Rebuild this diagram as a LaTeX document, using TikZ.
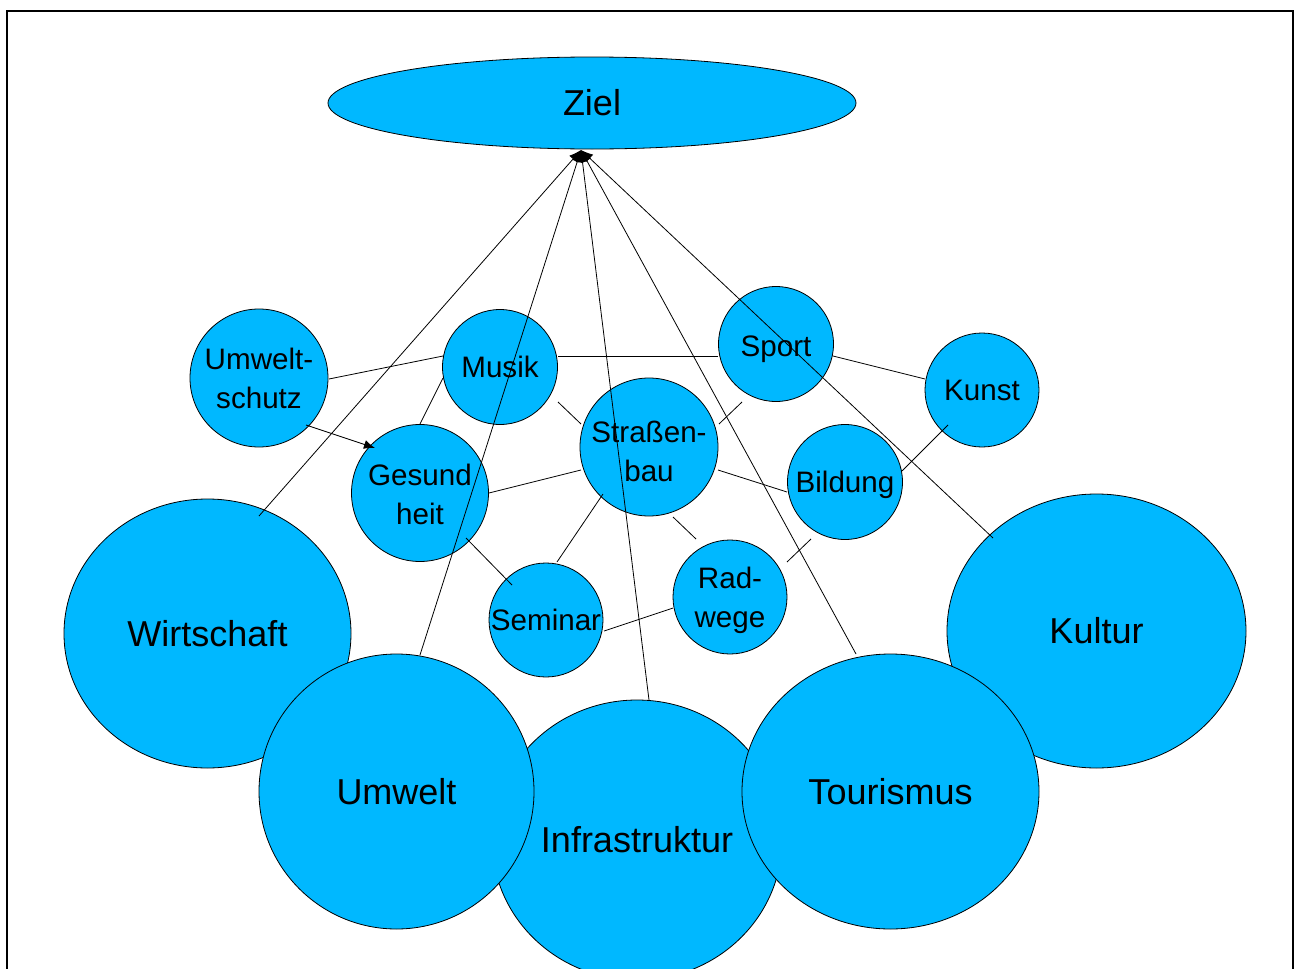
\documentclass[tikz,border=0pt]{standalone}
\usepackage{fontspec}
\setmainfont{Liberation Sans}
\usetikzlibrary{shapes.geometric,arrows.meta}
\definecolor{fillblue}{RGB}{0,184,255}
\begin{document}
\begin{tikzpicture}[x=1pt,y=-1pt,
  bubble/.style={circle,draw=black,line width=0.8pt,fill=fillblue,inner sep=-4pt,align=center,font=\fontsize{29.6}{39}\selectfont},
  nodesc/.style={text depth=0pt},
  big/.style={ellipse,draw=black,line width=0.8pt,fill=fillblue,inner sep=0pt,align=center,font=\fontsize{36}{42}\selectfont},
  link/.style={line width=0.8pt},
  toziel/.style={line width=0.8pt,-{Latex[length=12pt,width=10pt]}},
  frame/.style={line width=2pt}
]
\useasboundingbox (0,0) rectangle (1294,969);
\fill[white] (0,0) rectangle (1294,969);
\draw[frame] (7,980) -- (7,11) -- (1293,11) -- (1293,980);

% top goal
\node[big, minimum width=528pt, minimum height=92pt, font=\fontsize{36}{42}\selectfont] (ziel) at (592,103) {Ziel};
\coordinate (apex) at (581,150);

% big areas
\node[big, minimum width=287pt, minimum height=269pt] (wirt) at (207.5,633.5) {Wirtschaft};
\node[big, minimum width=299pt, minimum height=274pt] (kult) at (1096.5,631) {Kultur};
\node[big, minimum width=290pt, minimum height=280pt] (infra) at (637,840) {Infrastruktur};
\node[big, minimum width=275pt, minimum height=275pt] (umw) at (396.5,791.5) {Umwelt};
\node[big, minimum width=297pt, minimum height=275pt] (tour) at (890.5,791.5) {Tourismus};

% small topics
\node[bubble, minimum size=138pt] (uschutz) at (259,378) {Umwelt-\\schutz};
\node[bubble, minimum size=115pt] (musik) at (500,367) {Musik};
\node[bubble, minimum size=137pt] (gesund) at (420,493) {\rule{0pt}{25pt}Gesund\\heit};
\node[bubble, minimum size=138pt] (strasse) at (649,447) {\rule{0pt}{30pt}Straßen-\\bau};
\node[bubble, nodesc, minimum size=115pt] (sport) at (776,344) {\rule{0pt}{25pt}Sport};
\node[bubble, minimum size=114pt] (kunst) at (982,390) {Kunst};
\node[bubble, nodesc, minimum size=115pt] (bild) at (845,482) {Bildung};
\node[bubble, minimum size=114pt] (sem) at (546,620) {Seminar};
\node[bubble, nodesc, minimum size=114pt] (rad) at (730,597) {Rad-\\wege};

% link end points
\coordinate (us1) at (329,379);   \coordinate (mu1) at (443,356);
\coordinate (mu2) at (558,356);   \coordinate (sp1) at (718,356);
\coordinate (sp2) at (833,356);   \coordinate (ku1) at (925,379);
\coordinate (mu3) at (443,378);   \coordinate (ge1) at (420,424);
\coordinate (us2) at (306,425);   \coordinate (ge2) at (375,448);
\coordinate (mu4) at (558,402);   \coordinate (st1) at (581,424);
\coordinate (ge3) at (489,493);   \coordinate (st2) at (581,470);
\coordinate (st3) at (719,424);   \coordinate (sp3) at (742,402);
\coordinate (st4) at (718,470);   \coordinate (bi1) at (787,492);
\coordinate (ku2) at (948,425);   \coordinate (bi2) at (902,471);
\coordinate (st5) at (603,494);   \coordinate (se1) at (557,562);
\coordinate (ge4) at (466,538);   \coordinate (se2) at (512,585);
\coordinate (st6) at (673,517);   \coordinate (ra1) at (696,539);
\coordinate (se3) at (604,631);   \coordinate (ra2) at (673,608);
\coordinate (bi3) at (811,539);   \coordinate (ra3) at (787,562);

\draw[link] (us1) -- (mu1);
\draw[link] (mu2) -- (sp1);
\draw[link] (sp2) -- (ku1);
\draw[link] (mu3) -- (ge1);
\draw[link,-{Latex[length=11pt,width=9pt]}] (us2) -- (ge2);
\draw[link] (mu4) -- (st1);
\draw[link] (ge3) -- (st2);
\draw[link] (st3) -- (sp3);
\draw[link] (st4) -- (bi1);
\draw[link] (ku2) -- (bi2);
\draw[link] (st5) -- (se1);
\draw[link] (ge4) -- (se2);
\draw[link] (st6) -- (ra1);
\draw[link] (se3) -- (ra2);
\draw[link] (bi3) -- (ra3);

% lines from areas to goal
\coordinate (wi0) at (259,516);
\coordinate (um0) at (420,655);
\coordinate (in0) at (649,700);
\coordinate (to0) at (856,654);
\coordinate (kl0) at (993,538);
\draw[toziel] (wi0) -- (apex);
\draw[toziel] (um0) -- (apex);
\draw[toziel] (in0) -- (apex);
\draw[toziel] (to0) -- (apex);
\draw[toziel] (kl0) -- (apex);
\end{tikzpicture}
\end{document}
